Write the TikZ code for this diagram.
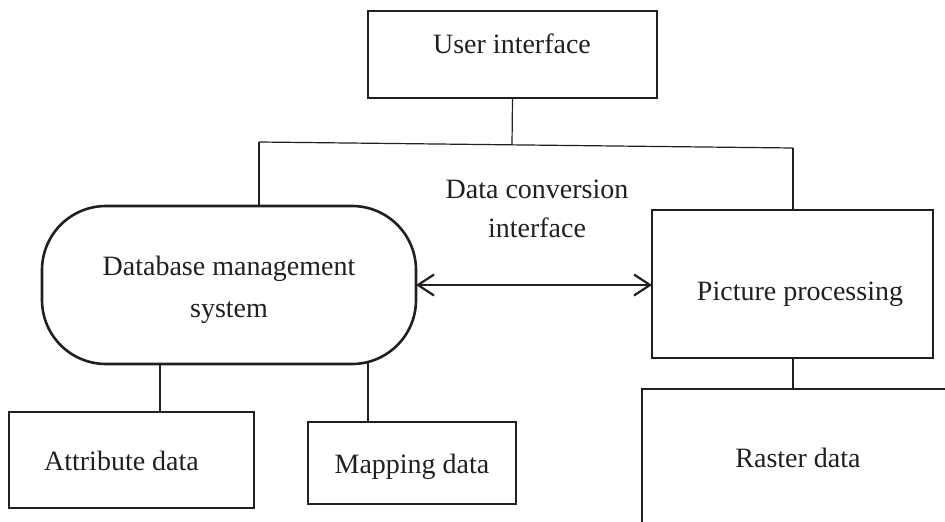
\documentclass[tikz,border=0pt]{standalone}
\usepackage{fontspec}
\setmainfont{Liberation Serif}
\usetikzlibrary{arrows.meta}
\definecolor{ink}{RGB}{35,31,32}
\begin{document}
\begin{tikzpicture}[x=1pt,y=-1pt,
  box/.style={draw=ink, line width=2.6pt, inner sep=0pt, outer sep=0pt},
  conn/.style={draw=ink, line width=1.2pt},
  lbl/.style={font=\fontsize{28}{42}\selectfont, text=ink, inner sep=0pt, anchor=base}]
\useasboundingbox (0,0) rectangle (945,522);
\fill[white] (0,0) rectangle (945,522);

% boxes
\node[box, minimum width=289pt, minimum height=87pt] (ui) at (512.5,54.5) {};
\node[box, rounded corners=64pt, minimum width=374pt, minimum height=158pt] (db) at (229,285) {};
\node[box, minimum width=281pt, minimum height=148pt] (pp) at (792.5,284) {};
\node[box, minimum width=245pt, minimum height=96pt] (attr) at (131.5,460) {};
\node[box, minimum width=208pt, minimum height=82pt] (map) at (412,463) {};
\node[inner sep=0pt, outer sep=0pt, minimum width=303pt, minimum height=133pt] (raster) at (793.5,455.5) {};
\draw[ink, line width=2.6pt] (raster.south west) -- (raster.north west) -- (raster.north east);

% texts
\node[lbl] (uit) at (512,53) {User interface};
\node[lbl] (dbt1) at (229,275) {Database management};
\node[lbl] (dbt2) at (229,317) {system};
\node[lbl] (dct1) at (537,198) {Data conversion};
\node[lbl] (dct2) at (537,237) {interface};
\node[lbl] (ppt) at (800,300) {Picture processing};
\node[lbl] (att) at (121.5,470) {Attribute data};
\node[lbl] (mat) at (412,473) {Mapping data};
\node[lbl] (rat) at (798,467) {Raster data};

% connectors
\coordinate (jm) at (512,145);
\coordinate (jl) at (259,142);
\coordinate (jr) at (793,148);
\draw[conn] (ui.south) -- (jm);
\draw[conn] (jl) -- (jr);
\draw[conn] (jl) -- (jl |- db.north);
\draw[conn] (jr) -- (jr |- pp.north);
\coordinate (da) at (160,364);
\draw[conn] (da) -- (da |- attr.north);
\coordinate (dm) at (368,361);
\draw[conn] (dm) -- (dm |- map.north);
\draw[conn] (pp.south -| jr) -- (raster.north -| jr);

% double arrow
\draw[ink, line width=2.2pt, {Straight Barb[length=16pt,width=21pt]}-{Straight Barb[length=16pt,width=21pt]}]
  (db.east) -- (db.east -| pp.west);
\end{tikzpicture}
\end{document}
